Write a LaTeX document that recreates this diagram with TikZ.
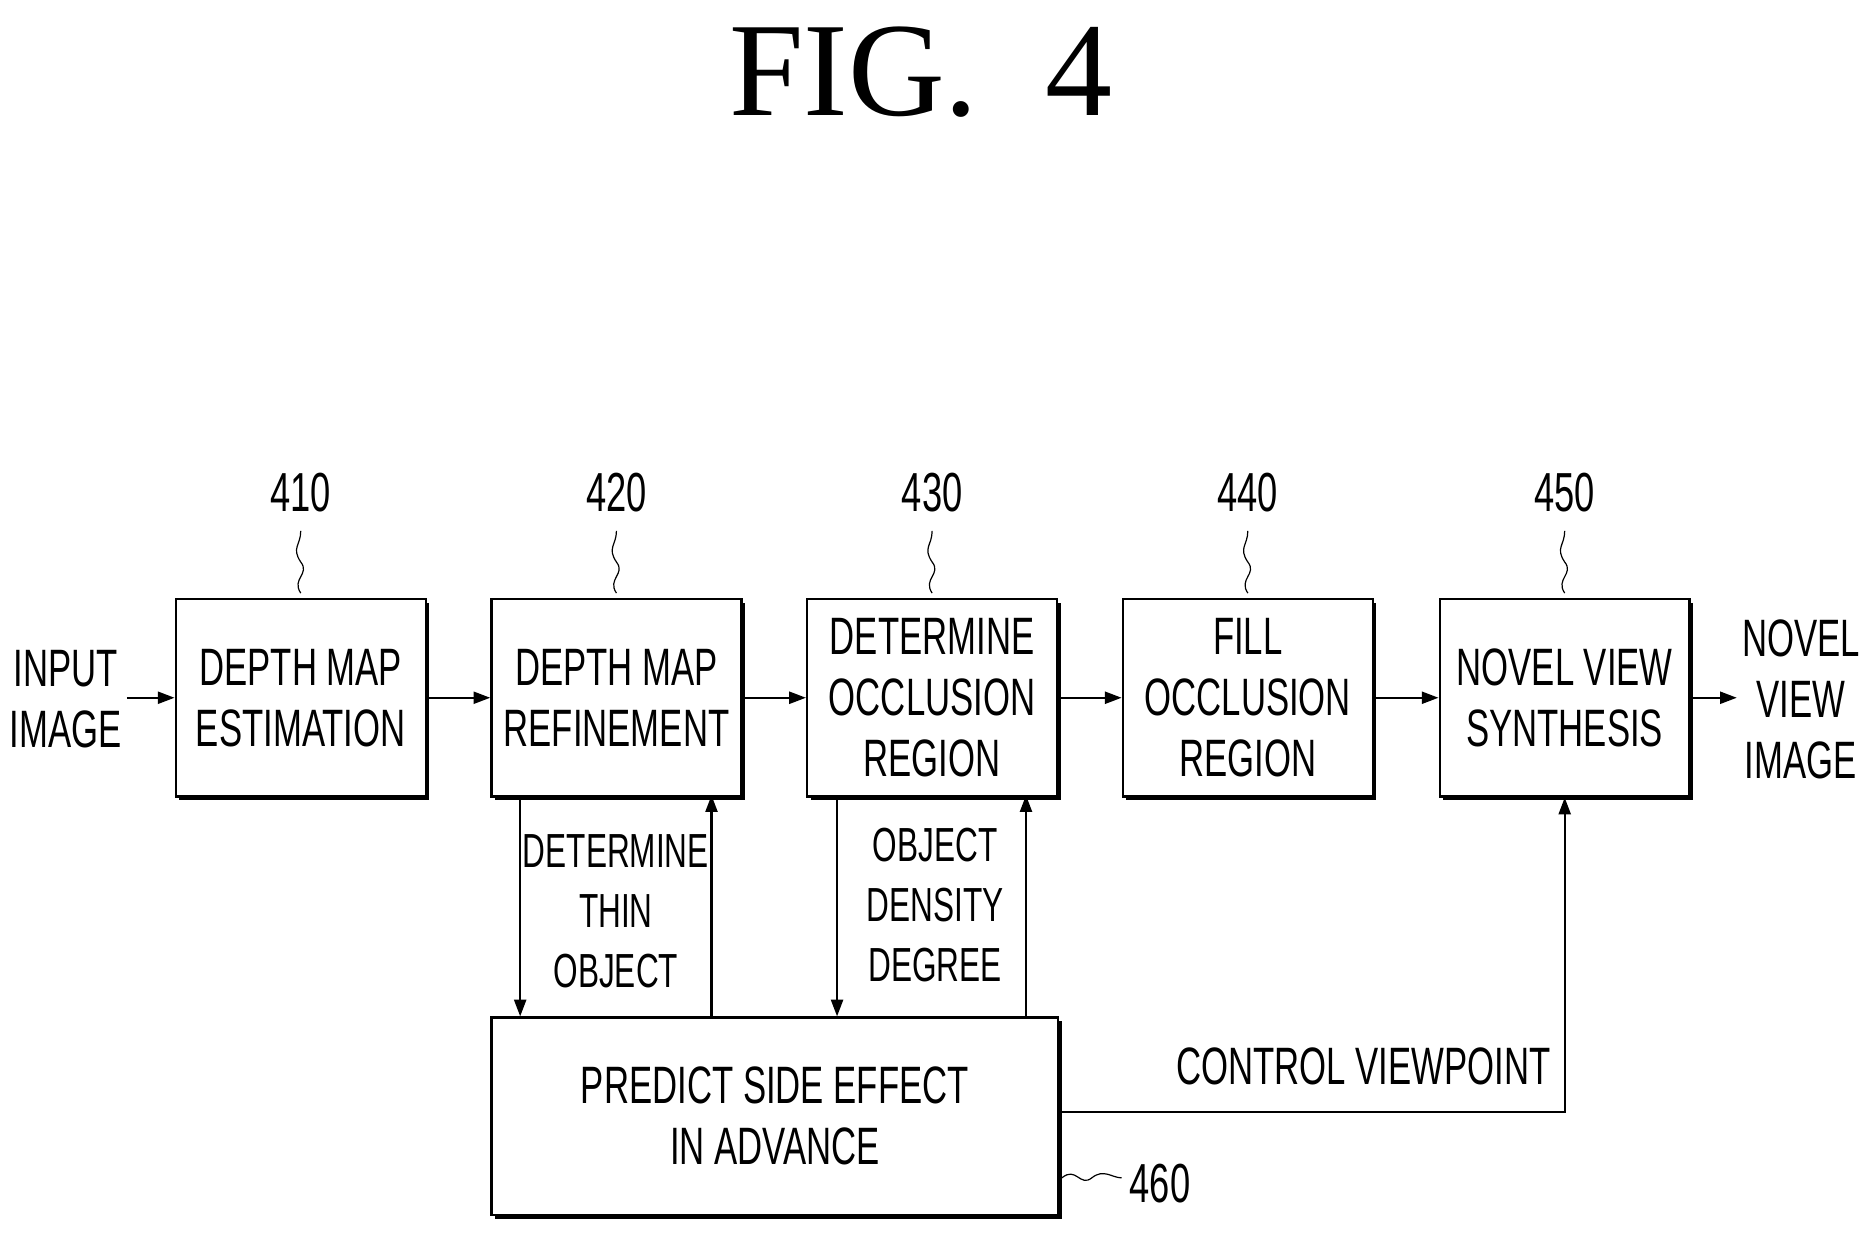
\documentclass[tikz,border=0pt]{standalone}
\usepackage{fontspec}
\setmainfont{Liberation Serif}
\newfontfamily\cond[FakeStretch=0.66]{Liberation Sans}
\usetikzlibrary{arrows.meta}
\begin{document}
\begin{tikzpicture}[x=1pt,y=-1pt,line width=2pt,
 box/.style={draw,minimum width=209pt,minimum height=165pt,anchor=north west,inner sep=0pt,align=center,font=\cond\fontsize{44}{51}\selectfont},
 txt/.style={align=center,font=\cond\fontsize{44}{51}\selectfont},
 num/.style={font=\cond\fontsize{46}{50}\selectfont},
 arr/.style={-{Triangle[length=14pt,width=10pt]}}]
\useasboundingbox (0,0) rectangle (1568,1035);
\node[font=\fontsize{112}{112}\selectfont] (title) at (770,60) {FIG.\ \ 4};
\foreach \n/\x/\t in {a/146/{DEPTH MAP\\ESTIMATION},b/410/{DEPTH MAP\\REFINEMENT},c/674/{DETERMINE\\OCCLUSION\\REGION},d/938/{FILL\\OCCLUSION\\REGION},e/1203/{NOVEL VIEW\\SYNTHESIS}}{
 \fill (\x+4,504) rectangle (\x+213,669);
 \node[box,fill=white] (\n) at (\x,500) {\t};
}
\fill (414,854) rectangle (888,1019);
\node[box,fill=white,minimum width=474pt] (f) at (410,850) {PREDICT SIDE EFFECT\\IN ADVANCE};
% numbers
\foreach \n/\l in {a/410,b/420,c/430,d/440,e/450}{
 \node[num] (n\n) at ([yshift=88]\n.north) {\l};
 \draw[line width=1pt] ([yshift=4]\n.north) .. controls +(-8,-12) and +(8,10) .. +(0,-26) .. controls +(-8,-12) and +(0,12) .. +(0,-52);
}
\node[num] (n460) at (970,990) {460};
\coordinate (q) at (888,985);
\draw[line width=1pt] (q) .. controls +(12,-10) and +(-10,8) .. +(25,0) .. controls +(10,-8) and +(-8,0) .. +(50,0);
% flow
\node[txt] (in) at (55,585) {INPUT\\IMAGE};
\node[txt] (out) at (1506,585) {NOVEL\\VIEW\\IMAGE};
\draw[arr] (in.east|-a.west) -- (a.west);
\draw[arr] (a.east) -- (b.west);
\draw[arr] (b.east) -- (c.west);
\draw[arr] (c.east) -- (d.west);
\draw[arr] (d.east) -- (e.west);
\draw[arr] (e.east) -- (out.west|-e.east);
% feedback
\draw[arr] (435,665) -- (435,850);
\draw[arr] (595,850) -- (595,665);
\draw[arr] (700,665) -- (700,850);
\draw[arr] (858,850) -- (858,665);
\node[txt,font=\cond\fontsize{40}{50}\selectfont] (l1) at (515,762) {DETERMINE\\THIN\\OBJECT};
\node[txt,font=\cond\fontsize{40}{50}\selectfont] (l2) at (782,757) {OBJECT\\DENSITY\\DEGREE};
\draw[arr] (f.east|-0,930) -| (e.south);
\node[txt] (l3) at (1140,892) {CONTROL VIEWPOINT};
\end{tikzpicture}
\end{document}
